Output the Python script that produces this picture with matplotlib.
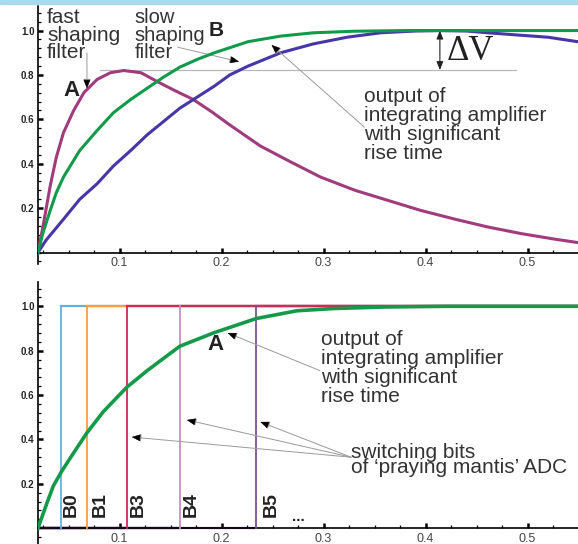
import matplotlib
matplotlib.use("Agg")
import matplotlib.pyplot as plt
from matplotlib.ticker import MultipleLocator, FixedLocator
from matplotlib.patches import Rectangle

plt.rcParams['font.family'] = ['Liberation Sans', 'DejaVu Sans']

# ---------------- data ----------------
# top panel: fast shaping filter output (A)
t_fast = [0.02, 0.025, 0.032, 0.038, 0.045, 0.055, 0.065, 0.078, 0.091, 0.104,
          0.121, 0.137, 0.154, 0.172, 0.19, 0.208, 0.238, 0.267, 0.297, 0.331,
          0.363, 0.395, 0.429, 0.461, 0.494, 0.527, 0.549]
v_fast = [0.0, 0.12, 0.30, 0.43, 0.54, 0.64, 0.72, 0.78, 0.81, 0.82,
          0.81, 0.77, 0.73, 0.69, 0.635, 0.575, 0.48, 0.41, 0.34, 0.28,
          0.235, 0.19, 0.15, 0.115, 0.085, 0.06, 0.045]

# top panel: output of integrating amplifier (green)
t_int = [0.02, 0.025, 0.032, 0.038, 0.045, 0.061, 0.078, 0.094, 0.111, 0.127,
         0.143, 0.159, 0.176, 0.193, 0.226, 0.258, 0.29, 0.33, 0.38, 0.45, 0.549]
v_int = [0.0, 0.09, 0.19, 0.27, 0.34, 0.46, 0.55, 0.63, 0.69, 0.74,
         0.79, 0.835, 0.87, 0.90, 0.95, 0.975, 0.99, 0.997, 1.0, 1.0, 1.0]

# top panel: slow shaping filter output (B)
t_slow = [0.02, 0.028, 0.045, 0.061, 0.078, 0.094, 0.111, 0.127, 0.143, 0.159,
          0.176, 0.193, 0.208, 0.226, 0.258, 0.29, 0.323, 0.356, 0.39, 0.414,
          0.44, 0.461, 0.49, 0.52, 0.549]
v_slow = [0.0, 0.056, 0.15, 0.24, 0.31, 0.39, 0.46, 0.53, 0.59, 0.65,
          0.70, 0.75, 0.80, 0.84, 0.90, 0.94, 0.97, 0.99, 0.998, 1.0,
          0.998, 0.99, 0.98, 0.97, 0.95]

# bottom panel: integrating amplifier output
t_int2 = [0.02, 0.0285, 0.035, 0.043, 0.055, 0.068, 0.084, 0.107, 0.127, 0.159,
          0.192, 0.234, 0.274, 0.31, 0.36, 0.42, 0.549]
v_int2 = [0.0, 0.11, 0.19, 0.255, 0.34, 0.43, 0.525, 0.635, 0.71, 0.82,
          0.88, 0.945, 0.98, 0.99, 0.997, 1.0, 1.0]

# bottom panel: switching bits
bit_names = ['B0', 'B1', 'B3', 'B4', 'B5']
bit_t = [0.043, 0.068, 0.107, 0.159, 0.234]
bit_colors = ['#5ab4e3', '#f2a040', '#d02a55', '#c98fbf', '#7c4f92']

x_ticks = [0.1, 0.2, 0.3, 0.4, 0.5]
x_tick_labels = ['0.1', '0.2', '0.3', '0.4', '0.5']
y_ticks = [0.2, 0.4, 0.6, 0.8, 1.0]
y_tick_labels = ['0.2', '0.4', '0.6', '0.8', '1.0']

X0, X1 = 0.02, 0.5494
TXT = '#333333'
GRAY = '#9a9a9a'

fig = plt.figure(figsize=(5.78, 5.44), dpi=100)
fig.patches.append(Rectangle((0, 0.9926), 1, 0.0074, transform=fig.transFigure,
                             color='#a9d9ec', zorder=0))

ax1 = fig.add_axes([0.0657, 0.5154, 0.9343, 0.4733])
ax2 = fig.add_axes([0.0657, 0.0004, 0.9343, 0.4814])


def style(ax, ylo):
    ax.set_xlim(X0, X1)
    ax.set_ylim(ylo, 1.11)
    for s in ('top', 'right'):
        ax.spines[s].set_visible(False)
    ax.spines['bottom'].set_position(('data', 0))
    ax.spines['left'].set_linewidth(1.2)
    ax.spines['bottom'].set_linewidth(1.2)
    ax.xaxis.set_major_locator(FixedLocator(x_ticks))
    ax.set_xticklabels(x_tick_labels)
    ax.xaxis.set_minor_locator(MultipleLocator(0.025))
    ax.yaxis.set_major_locator(FixedLocator(y_ticks))
    ax.set_yticklabels(y_tick_labels)
    ax.yaxis.set_minor_locator(MultipleLocator(0.04))
    ax.tick_params(which='major', direction='in', length=3.5, width=1.8,
                   colors='black')
    ax.tick_params(which='minor', direction='in', length=2.2, width=0.9)
    ax.tick_params(axis='x', which='major', labelsize=9, pad=3.5,
                   labelcolor='#444444')
    ax.tick_params(axis='y', which='major', labelsize=7, pad=2.5,
                   labelcolor='#222222')
    for lab in ax.get_yticklabels():
        lab.set_fontweight('bold')
    ax.patch.set_alpha(0)


style(ax1, -0.05)
style(ax2, -0.07)


def arrow(ax, tail, head, line_color=GRAY, lw=0.7):
    ax.annotate('', xy=head, xytext=tail,
                arrowprops=dict(arrowstyle='-|>,head_length=0.55,head_width=0.22',
                                color=line_color, lw=lw, shrinkA=0, shrinkB=0))
    # black head
    dx = head[0] - tail[0]
    dy = head[1] - tail[1]
    ax.annotate('', xy=head, xytext=(head[0] - dx * 0.02, head[1] - dy * 0.02),
                arrowprops=dict(arrowstyle='-|>,head_length=0.55,head_width=0.22',
                                color='black', lw=0.3, shrinkA=0, shrinkB=0))


# ---------------- top panel ----------------
ax1.plot(t_fast, v_fast, color='#a03b7c', lw=2.2, zorder=3)
ax1.plot(t_slow, v_slow, color='#4636a6', lw=2.2, zorder=3)
ax1.plot(t_int, v_int, color='#119a4a', lw=2.2, zorder=4)

ax1.plot([0.081, 0.4886], [0.822, 0.822], color='#b8b8b8', lw=0.9, zorder=1)

ax1.text(0.0288, 1.10, 'fast\nshaping\nfilter', ha='left', va='top',
         fontsize=15, color=TXT, linespacing=0.88)
ax1.text(0.115, 1.10, 'slow\nshaping\nfilter', ha='left', va='top',
         fontsize=14.5, color=TXT, linespacing=0.9)
ax1.text(0.187, 1.0, 'B', ha='left', va='center', fontsize=15,
         fontweight='bold', color='#222222')
ax1.text(0.053, 0.73, 'A', ha='center', va='center', fontsize=16,
         fontweight='bold', color='#222222')

arrow(ax1, (0.068, 0.90), (0.068, 0.74))
arrow(ax1, (0.157, 0.925), (0.217, 0.86))
arrow(ax1, (0.340, 0.565), (0.249, 0.935))

ax1.annotate('', xy=(0.414, 0.822), xytext=(0.414, 1.0),
             arrowprops=dict(arrowstyle='<|-|>,head_length=0.5,head_width=0.2',
                             color='#222222', lw=0.8, shrinkA=0, shrinkB=0))
ax1.text(0.421, 0.905, '\u0394V', ha='left', va='center', fontsize=25,
         family=['Liberation Serif', 'DejaVu Serif'], color='#222222')

ax1.text(0.340, 0.745, 'output of\nintegrating amplifier\nwith significant\nrise time',
         ha='left', va='top', fontsize=15, color=TXT, linespacing=1.0)

# ---------------- bottom panel ----------------
# zero levels
for b, c in zip(bit_t, bit_colors):
    ax2.plot([X0, b], [0, 0], color='#6a3f82', lw=1.6, zorder=2)
# top levels (B3 drawn last, as in the picture)
order = [0, 1, 3, 4, 2]
for i in order:
    ax2.plot([bit_t[i], X1], [1, 1], color=bit_colors[i], lw=1.6, zorder=2)
# switching edges
for b, c in zip(bit_t, bit_colors):
    ax2.plot([b, b], [0, 1], color=c, lw=1.3, zorder=3)

ax2.plot(t_int2, v_int2, color='#149a48', lw=2.6, zorder=5)

label_t = [0.0445, 0.073, 0.110, 0.162, 0.240]
for name, lt in zip(bit_names, label_t):
    ax2.text(lt, 0.05, name, rotation=90, ha='left', va='bottom', fontsize=14,
             fontweight='bold', color='#222222')
ax2.text(0.269, 0.02, '...', ha='left', va='bottom', fontsize=11,
         fontweight='bold', color='#222222')

ax2.text(0.186, 0.826, 'A', ha='left', va='center', fontsize=16,
         fontweight='bold', color='#222222')
arrow(ax2, (0.2965, 0.71), (0.206, 0.88))

ax2.text(0.2975, 0.893, 'output of\nintegrating amplifier\nwith significant\nrise time',
         ha='left', va='top', fontsize=15, color=TXT, linespacing=1.0)

ax2.text(0.327, 0.385, 'switching bits\nof \u2018praying mantis\u2019 ADC',
         ha='left', va='top', fontsize=15, color=TXT, linespacing=0.75)
for head in [(0.112, 0.411), (0.166, 0.488), (0.238, 0.479)]:
    arrow(ax2, (0.327, 0.32), head)

fig.savefig('out.png', dpi=100)
